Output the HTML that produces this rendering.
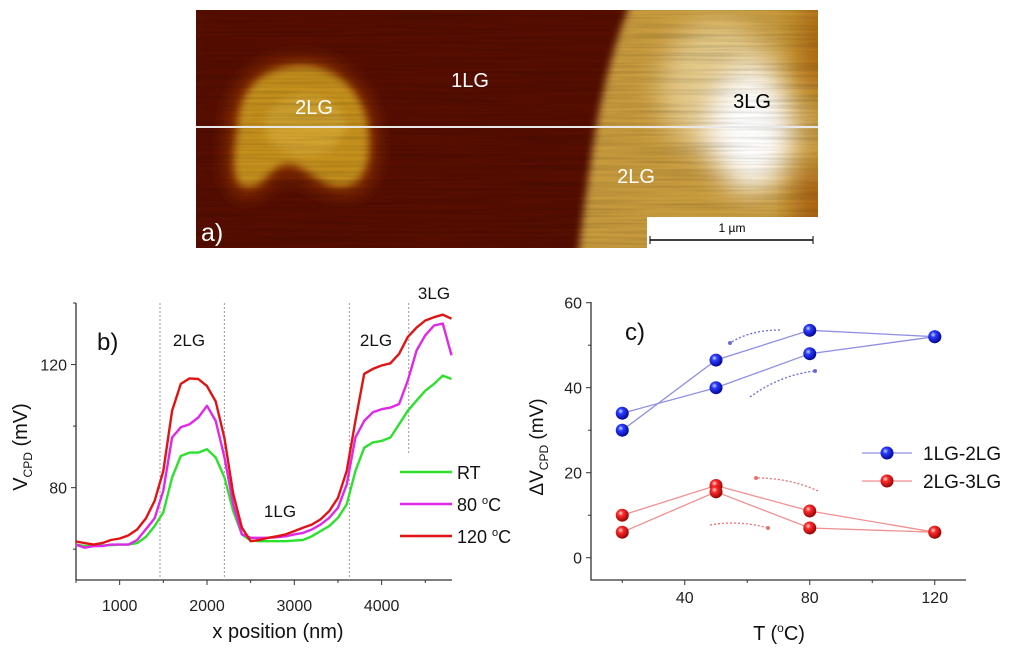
<!DOCTYPE html>
<html><head><meta charset="utf-8">
<style>
html,body{margin:0;padding:0;background:#fff;}
svg{display:block;font-family:"Liberation Sans",sans-serif;}
</style></head>
<body>
<svg id="fig" width="1024" height="654" viewBox="0 0 1024 654">
<defs>
  <filter id="blur4" x="-20%" y="-20%" width="140%" height="140%"><feGaussianBlur stdDeviation="4"/></filter>
  <filter id="blur8" x="-30%" y="-30%" width="160%" height="160%"><feGaussianBlur stdDeviation="9"/></filter>
  <filter id="blur14" x="-40%" y="-40%" width="180%" height="180%"><feGaussianBlur stdDeviation="14"/></filter>
  <filter id="streaks" x="0" y="0" width="100%" height="100%">
    <feTurbulence type="fractalNoise" baseFrequency="0.008 0.35" numOctaves="2" seed="3"/>
    <feColorMatrix type="matrix" values="0 0 0 0 0  0 0 0 0 0  0 0 0 0 0  0 0 0 -1.6 1.0"/>
  </filter>
  <clipPath id="imgclip"><rect x="196" y="10" width="622" height="238"/></clipPath>
  <radialGradient id="gBlue" cx="0.38" cy="0.35" r="0.7"><stop offset="0" stop-color="#d0d8ff"/><stop offset="0.3" stop-color="#2a3cff"/><stop offset="1" stop-color="#00008a"/></radialGradient>
  <radialGradient id="gRed" cx="0.38" cy="0.35" r="0.7"><stop offset="0" stop-color="#ffe0e0"/><stop offset="0.3" stop-color="#ff2a2a"/><stop offset="1" stop-color="#8a0000"/></radialGradient>
</defs>

<!-- Panel a: AFM image -->
<g id="panel-a" clip-path="url(#imgclip)">
  <rect x="196" y="10" width="622" height="238" fill="#560e00"/>
  <g filter="url(#blur8)">
    <path d="M228,125 C230,80 262,58 302,58 C345,58 372,92 376,128 C380,160 376,195 345,195 C318,195 300,172 285,176 C268,180 262,200 240,196 C222,190 226,150 228,125 Z" fill="#8c3200"/>
  </g>
  <g filter="url(#blur4)">
    <path d="M238,125 C240,86 265,66 302,66 C340,66 364,96 368,128 C371,156 368,184 343,186 C318,188 302,160 285,164 C268,168 264,190 244,186 C230,182 234,150 238,125 Z" fill="#c4901e"/>
    <ellipse cx="305" cy="125" rx="40" ry="30" fill="#d6a834" opacity="0.7"/>
  </g>
  <g filter="url(#blur4)">
    <path d="M632,0 L830,0 L830,260 L578,260 C582,220 588,180 594,140 C602,90 615,40 632,0 Z" fill="#c79a3e"/>
  </g>
  <g filter="url(#blur14)">
    <rect x="800" y="0" width="40" height="90" fill="#b06a10"/>
    <rect x="795" y="170" width="40" height="90" fill="#a86010"/>
  </g>
  <g filter="url(#blur14)">
    <ellipse cx="720" cy="90" rx="60" ry="70" fill="#e2c888"/>
    <ellipse cx="752" cy="130" rx="42" ry="62" fill="#fffcf2"/>
    <ellipse cx="752" cy="130" rx="30" ry="45" fill="#ffffff"/>
  </g>
  <rect x="196" y="10" width="622" height="238" filter="url(#streaks)" opacity="0.18"/>
  <line x1="196" y1="127" x2="818" y2="127" stroke="#e8e8e8" stroke-width="2"/>
  <text x="314" y="114" fill="#fff" font-size="20" text-anchor="middle">2LG</text>
  <text x="470" y="87" fill="#fff" font-size="20" text-anchor="middle">1LG</text>
  <text x="636" y="183" fill="#fff" font-size="20" text-anchor="middle">2LG</text>
  <text x="752" y="108" fill="#000" font-size="20" text-anchor="middle">3LG</text>
  <text x="201" y="241" fill="#fff" font-size="25">a)</text>
  <g>
    <rect x="647" y="217" width="175" height="34" fill="#fff"/>
    <text x="732" y="232" font-size="12" text-anchor="middle" fill="#000">1 µm</text>
    <line x1="650" y1="240" x2="813" y2="240" stroke="#000" stroke-width="1.5"/>
    <line x1="650" y1="236" x2="650" y2="244" stroke="#000"/>
    <line x1="813" y1="236" x2="813" y2="244" stroke="#000"/>
  </g>
</g>

<g id="panel-b"></g>
<g id="panel-c"></g>
</svg>

<script>
// ---------- Panel b data ----------
const bX = [500,600,700,800,900,1000,1100,1200,1300,1400,1500,1600,1700,1800,1900,2000,2100,2200,2300,2400,2500,2600,2700,2800,2900,3000,3100,3200,3300,3400,3500,3600,3700,3800,3900,4000,4100,4200,4300,4400,4500,4600,4700,4800];
const bRT =  [61.5,61,61,61.2,61.3,61.5,61.5,62,64,67.5,72,83.3,90.3,91.4,91.4,92.5,89.8,83.3,72.4,64.8,62.8,62.6,62.6,62.6,62.6,62.8,63,64.2,65.9,67.5,70.2,74.6,85.4,93,94.7,95.2,96.3,100.6,105,108.3,111.5,113.7,116.4,115.3];
const b80 =  [61.5,60.5,61,61,61.5,61.5,61.5,63,66.5,70,79,96.3,99.6,100.6,102.8,106.6,101.7,89.8,74.6,64.8,63.7,63.7,63.7,63.9,64.2,64.8,65.3,66.4,68,70.2,73.5,81,96.3,101.7,104.5,105.5,106,107.2,114.8,124.6,129.5,132.7,133.3,123];
const b120 = [62.5,62,61.5,62,63,63.5,64.5,66.4,70,75.7,85.4,105,113.7,115.5,115.3,113,108,96,78,67,62.6,63,63.7,64.2,64.8,65.9,67,68,69.7,72.4,76.7,85.4,101.7,117,118.6,119.7,120.4,123.5,129,132,134.3,135.4,136.2,134.9];
const bXTicks = [1000,2000,3000,4000];
const bYTicks = [80,120];
const bDividers = [1462,2199,3630,4310];

// ---------- Panel c data ----------
const cT = [20,50,80,120];
const blueHeat = [34,40,48,52];
const blueCool = [30,46.5,53.5,52];
const redHeat = [10,17,11,6];
const redCool = [6,15.5,7,6];
const cXTicks = [40,80,120];
const cYTicks = [0,20,40,60];

const NS = "http://www.w3.org/2000/svg";
function mk(tag, attrs, parent){ const e=document.createElementNS(NS,tag); for(const k in attrs) e.setAttribute(k,attrs[k]); parent.appendChild(e); return e; }

// ---- Panel b ----
const pb = document.getElementById('panel-b');
const bxs = v => 76 + (v-500)*(451.5-76)/4300;
const bys = v => 580 - (v-50)*(580-303)/90;
let ax = mk('path',{d:'M76,303 L76,580 L452,580',fill:'none',stroke:'#333','stroke-width':1.3},pb);


for(let v=500; v<=4800; v+=500){
  const t=mk('line',{x1:bxs(v),x2:bxs(v),y1:580,y2:v%1000===0?585:583,stroke:'#333'},pb);
  
  
}
for(let v=60; v<=140; v+=20){
  const t=mk('line',{x1:v%40===0?71:73,x2:76,y1:bys(v),y2:bys(v),stroke:'#333'},pb);
  
  
}
bXTicks.forEach(v=>{
  const t=mk('text',{x:bxs(v),y:611,'font-size':16,'text-anchor':'middle',fill:'#222'},pb); t.textContent=v;
  
  
});
bYTicks.forEach(v=>{
  const t=mk('text',{x:67,y:bys(v)+6,'font-size':16,'text-anchor':'end',fill:'#222'},pb); t.textContent=v;
  
  
});
bDividers.forEach((v,i)=>{
  const l=mk('line',{x1:bxs(v),x2:bxs(v),y1:303,y2:i===3?453:580,stroke:'#999','stroke-dasharray':'2,2'},pb);
  
  
});
function bLine(arr,color,name){
  const d=arr.map((v,i)=>(i?'L':'M')+bxs(bX[i]).toFixed(1)+','+bys(v).toFixed(1)).join(' ');
  const p=mk('path',{d:d,fill:'none',stroke:color,'stroke-width':2.4,'stroke-linejoin':'round'},pb);
  
  
}
bLine(bRT,'#2ee02e','line-rt');
bLine(b80,'#e028e8','line-80c');
bLine(b120,'#e01414','line-120c');
[['b)',97,350,24,'panel-b-label'],['2LG',189,346,17,'b-label-2lg-left'],['2LG',376,346,17,'b-label-2lg-right'],['3LG',434,299,17,'b-label-3lg'],['1LG',280,517,17,'b-label-1lg']].forEach((a,i)=>{
  const t=mk('text',{x:a[1],y:a[2],'font-size':a[3],'text-anchor':i?'middle':'start',fill:'#111'},pb); t.textContent=a[0];
  
  
});
[['RT','#2ee02e',472],['80 °C','#e028e8',504],['120 °C','#e01414',536]].forEach(a=>{
  const g=mk('g',{},pb);
  
  
  mk('line',{x1:400,x2:452,y1:a[2],y2:a[2],stroke:a[1],'stroke-width':2.5},g);
  const t=mk('text',{x:457,y:a[2]+7,'font-size':18,fill:'#111'},g);
  if(a[0]==='RT') t.textContent='RT';
  else { t.textContent=a[0].split(' ')[0]+' '; const s=mk('tspan',{dy:-7,'font-size':11},t); s.textContent='o'; const s2=mk('tspan',{dy:7},t); s2.textContent='C'; }
});
let yt=mk('text',{transform:'translate(27,447) rotate(-90)','font-size':20,'text-anchor':'middle',fill:'#111'},pb);


yt.innerHTML='V<tspan font-size="12" dy="5">CPD</tspan><tspan dy="-5"> (mV)</tspan>';
let xt=mk('text',{x:278,y:638,'font-size':20,'text-anchor':'middle',fill:'#111'},pb); xt.textContent='x position (nm)';



// ---- Panel c ----
const pc = document.getElementById('panel-c');
const cxs = v => 591 + (v-10)*(966-591)/120;
const cys = v => 557.7 - v*(557.7-302.7)/60;
let ax2=mk('path',{d:'M591,302 L591,580 L966,580',fill:'none',stroke:'#333','stroke-width':1.3},pc);


for(let v=20; v<=120; v+=20){
  const t=mk('line',{x1:cxs(v),x2:cxs(v),y1:580,y2:v%40===0?585:583,stroke:'#333'},pc);
  
  
}
for(let v=0; v<=60; v+=10){
  const t=mk('line',{x1:v%20===0?586:588,x2:591,y1:cys(v),y2:cys(v),stroke:'#333'},pc);
  
  
}
cXTicks.forEach(v=>{
  const t=mk('text',{x:cxs(v),y:603,'font-size':16,'text-anchor':'middle',fill:'#222'},pc); t.textContent=v;
  
  
});
cYTicks.forEach(v=>{
  const t=mk('text',{x:582,y:cys(v)+6,'font-size':16,'text-anchor':'end',fill:'#222'},pc); t.textContent=v;
  
  
});
function cSeries(arr,lineColor,grad,name){
  const d=arr.map((v,i)=>(i?'L':'M')+cxs(cT[i]).toFixed(1)+','+cys(v).toFixed(1)).join(' ');
  const p=mk('path',{d:d,fill:'none',stroke:lineColor,'stroke-width':1.3},pc);
  
  
  arr.forEach((v,i)=>{
    const c=mk('circle',{cx:cxs(cT[i]),cy:cys(v),r:6.5,fill:grad},pc);
    
    
  });
}
cSeries(blueHeat,'#8f8fe6','url(#gBlue)','blue-heating');
cSeries(blueCool,'#8f8fe6','url(#gBlue)','blue-cooling');
cSeries(redHeat,'#f09090','url(#gRed)','red-heating');
cSeries(redCool,'#f09090','url(#gRed)','red-cooling');
[['M780,330 Q750,330 730,343','#6a6ae0','730,343','blue-cooling-arrow'],
 ['M750,397 Q780,375 815,371','#6a6ae0','815,371','blue-heating-arrow'],
 ['M818,491 Q790,478 756,478','#f07070','756,478','red-cooling-arrow'],
 ['M710,525 Q740,520 768,528','#f07070','768,528','red-heating-arrow']].forEach(a=>{
  const g=mk('g',{},pc);
  
  
  mk('path',{d:a[0],fill:'none',stroke:a[1],'stroke-width':1.3,'stroke-dasharray':'2,2'},g);
  const [x,y]=a[2].split(',').map(Number);
  mk('circle',{cx:x,cy:y,r:2,fill:a[1]},g);
});
let cl=mk('text',{x:625,y:340,'font-size':24,fill:'#111'},pc); cl.textContent='c)';


[['1LG-2LG','#8f8fe6','url(#gBlue)',453],['2LG-3LG','#f09090','url(#gRed)',481]].forEach(a=>{
  const g=mk('g',{},pc);
  
  
  mk('line',{x1:862,x2:912,y1:a[3],y2:a[3],stroke:a[1],'stroke-width':1.3},g);
  mk('circle',{cx:887,cy:a[3],r:6.5,fill:a[2]},g);
  const t=mk('text',{x:923,y:a[3]+7,'font-size':19,fill:'#111'},g); t.textContent=a[0];
});
let yt2=mk('text',{transform:'translate(543,447) rotate(-90)','font-size':19,'text-anchor':'middle',fill:'#111'},pc);


yt2.innerHTML='ΔV<tspan font-size="12" dy="5">CPD</tspan><tspan dy="-5"> (mV)</tspan>';
let xt2=mk('text',{x:779,y:640,'font-size':20,'text-anchor':'middle',fill:'#111'},pc);


xt2.innerHTML='T (<tspan dy="-8" font-size="12">o</tspan><tspan dy="8">C)</tspan>';
</script>
</body></html>
